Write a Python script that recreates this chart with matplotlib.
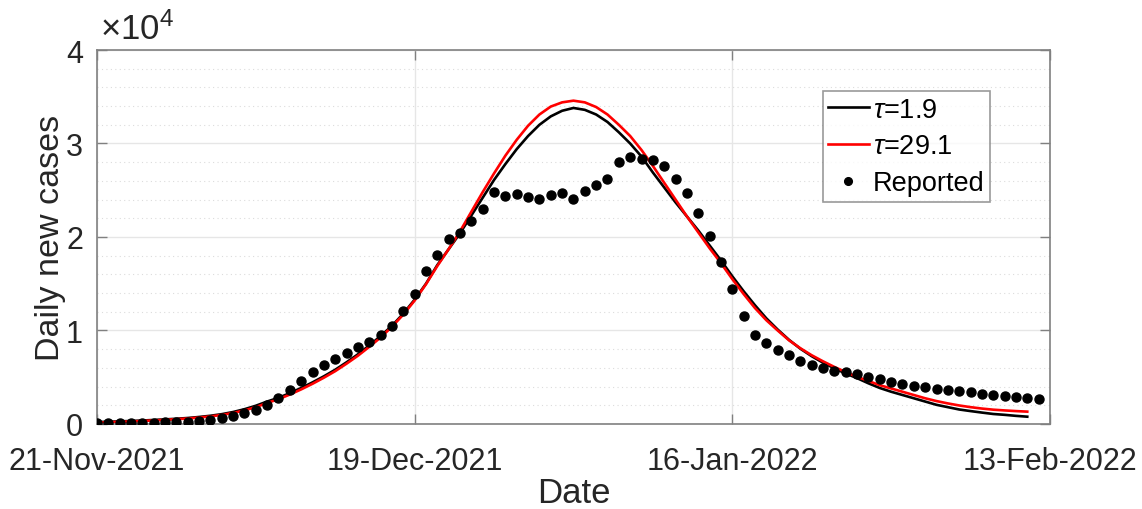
import numpy as np
import matplotlib
matplotlib.use('Agg')
import matplotlib.pyplot as plt
import matplotlib.dates as mdates
from matplotlib.ticker import MultipleLocator
import datetime as dt

plt.rcParams['font.family'] = ['Liberation Sans', 'DejaVu Sans']
plt.rcParams['mathtext.fontset'] = 'custom'
plt.rcParams['mathtext.rm'] = 'Liberation Sans'
plt.rcParams['mathtext.it'] = 'Liberation Sans:italic'

start = dt.date(2021, 11, 21)
tick_dates = [dt.date(2021, 11, 21), dt.date(2021, 12, 19),
              dt.date(2022, 1, 16), dt.date(2022, 2, 13)]

# reported daily new cases, one per day from 21-Nov-2021
reported = [60, 80, 100, 110, 120, 140, 160, 180, 220, 300,
            420, 640, 890, 1180, 1500, 2030, 2780, 3670, 4640, 5560,
            6350, 6990, 7590, 8200, 8770, 9550, 10510, 12050, 13870, 16400,
            18070, 19790, 20430, 21710, 23000, 24780, 24390, 24630, 24310, 24060,
            24460, 24710, 24060, 24920, 25560, 26150, 28060, 28520, 28340, 28240,
            27560, 26200, 24670, 22530, 20140, 17360, 14440, 11580, 9550, 8630,
            7910, 7340, 6770, 6340, 5990, 5700, 5530, 5310, 5060, 4810,
            4530, 4280, 4060, 3920, 3780, 3670, 3530, 3390, 3240, 3130,
            2990, 2890, 2780, 2670]

# model fit, tau = 1.9
fit_tau19 = [200, 240, 280, 320, 370, 430, 490, 560, 640, 750,
             880, 1050, 1280, 1580, 1950, 2400, 2800, 3300, 3850, 4450,
             5100, 5800, 6600, 7450, 8400, 9400, 10500, 11800, 13300, 15000,
             17000, 18700, 20400, 22300, 24200, 26100, 27800, 29400, 30800, 32000,
             32900, 33500, 33800, 33600, 33100, 32300, 31200, 30000, 28600, 26900,
             25300, 23700, 22200, 20700, 19100, 17500, 15800, 14200, 12700, 11300,
             10100, 9000, 8050, 7250, 6550, 5950, 5400, 4900, 4350, 3850,
             3450, 3100, 2750, 2400, 2050, 1800, 1550, 1380, 1220, 1070,
             980, 870, 780]

# model fit, tau = 29.1
fit_tau291 = [150, 190, 230, 270, 320, 380, 440, 510, 590, 690,
              810, 970, 1180, 1450, 1800, 2250, 2650, 3150, 3700, 4300,
              4950, 5650, 6450, 7300, 8250, 9250, 10400, 11700, 13200, 14950,
              16900, 18700, 20600, 22700, 24800, 26800, 28700, 30400, 31900, 33100,
              33950, 34400, 34580, 34400, 33900, 33100, 32000, 30800, 29300, 27600,
              25800, 24000, 22200, 20500, 18800, 17200, 15500, 13900, 12400, 11100,
              10000, 8950, 8100, 7350, 6700, 6100, 5550, 5050, 4600, 4150,
              3800, 3450, 3100, 2750, 2450, 2200, 1980, 1800, 1650, 1530,
              1450, 1380, 1320]

days_rep = [start + dt.timedelta(days=i) for i in range(len(reported))]
days_fit = [start + dt.timedelta(days=i) for i in range(len(fit_tau19))]

fig = plt.figure(figsize=(11.42, 5.10), dpi=100)
ax = fig.add_axes([0.0849, 0.1667, 0.8345, 0.7333])

ax.plot(days_fit, fit_tau19, color='black', lw=1.9, label=r'$\tau$=1.9')
ax.plot(days_fit, fit_tau291, color='#ff0000', lw=1.9, label=r'$\tau$=29.1')
ax.plot(days_rep, reported, 'o', color='black', ms=6.5, mec='black',
        label='Reported', zorder=3)

ax.set_xlim(tick_dates[0], tick_dates[-1])
ax.set_ylim(0, 40000)
ax.set_xticks(tick_dates)
ax.xaxis.set_major_formatter(mdates.DateFormatter('%d-%b-%Y'))
ax.set_yticks([0, 10000, 20000, 30000, 40000])
ax.set_yticklabels(['0', '1', '2', '3', '4'])
ax.yaxis.set_minor_locator(MultipleLocator(2000))

ax.grid(True, which='major', color='#e6e6e6', lw=1)
ax.grid(True, which='minor', axis='y', color='#dcdcdc', lw=0.8, ls=(0, (1, 3)))
ax.set_axisbelow(True)

for s in ax.spines.values():
    s.set_color('#808080')
    s.set_linewidth(1.2)
ax.tick_params(which='major', direction='in', length=7, width=1, color='#808080',
               labelsize=22, labelcolor='#262626', top=True, right=True)
ax.tick_params(axis='x', which='major', pad=16)
ax.tick_params(axis='y', which='major', pad=10)
ax.tick_params(which='minor', length=0)

ax.set_xlabel('Date', fontsize=25, color='#262626', labelpad=0)
ax.set_ylabel('Daily new cases', fontsize=24.5, color='#262626', labelpad=0)
ax.text(0.003, 1.01, r'$\times\mathregular{10^{4}}$', transform=ax.transAxes,
        fontsize=25, color='#262626', ha='left', va='bottom')

leg = ax.legend(loc='upper right', bbox_to_anchor=(0.937, 0.89), fontsize=19.5,
                frameon=True, fancybox=False, edgecolor='#808080',
                handlelength=1.5, handletextpad=0.15, borderpad=0.2,
                labelspacing=0.4, borderaxespad=0, markerscale=0.85)
leg.get_frame().set_linewidth(1.2)

fig.savefig('out.png', dpi=100)
